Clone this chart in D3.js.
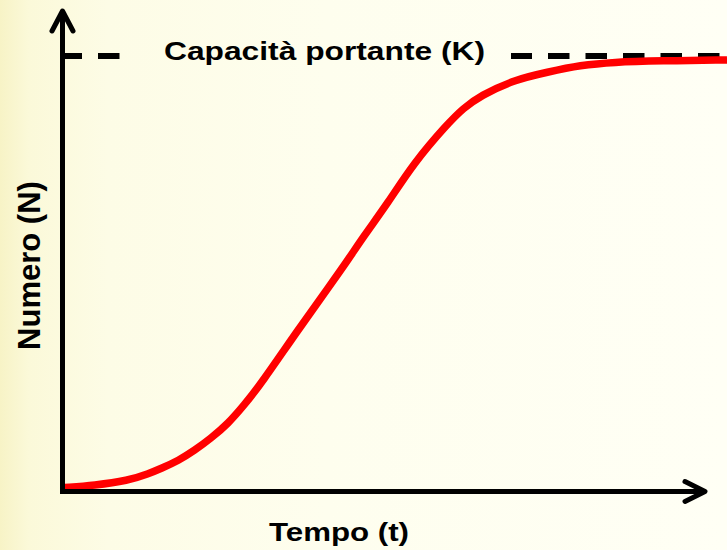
<!DOCTYPE html>
<html>
<head>
<meta charset="utf-8">
<script src="https://cdn.jsdelivr.net/npm/d3@7"></script>
<style>
  html, body { margin: 0; padding: 0; background: #fffff4; }
  svg { display: block; }
  text { font-family: Arial, "Liberation Sans", sans-serif; font-weight: bold; fill: #000; }
</style>
</head>
<body>
<svg id="chart" width="727" height="550"></svg>
<script>
// ---- data ----
const times  = [0, 4.5, 9.6, 12.7, 14.6, 17.2, 19.6, 22.1, 24.7, 27.1, 29.7, 35.2, 40.2, 42.8, 45.2, 48.8, 52.7, 57.8, 60.2, 62.8, 67.8, 72.9, 77.9, 82.8, 89.9, 100];
const numbers = [0.9, 1.4, 2.5, 4.1, 5.3, 7.1, 9.4, 12.2, 15.6, 19.8, 24.8, 37.0, 47.6, 53.2, 58.7, 66.2, 75.4, 84.4, 88.0, 90.9, 94.5, 96.3, 97.9, 98.6, 98.9, 99.1];
const carryingCapacity = 100;
const kLabel = "Capacità portante (K)";
const xLabel = "Tempo (t)";
const yLabel = "Numero (N)";

const W = 727, H = 550;
const svg = d3.select("#chart");

// background gradient
const defs = svg.append("defs");
const grad = defs.append("linearGradient").attr("id", "bg")
  .attr("gradientUnits", "userSpaceOnUse")
  .attr("x1", 0).attr("y1", 0).attr("x2", W).attr("y2", 0);
[[0, "#f7f3c6"], [0.04, "#fbf9d9"], [0.15, "#fdfce6"], [0.45, "#fefeee"], [1, "#fffff5"]]
  .forEach(([o, c]) => grad.append("stop").attr("offset", o).attr("stop-color", c));
svg.append("rect").attr("width", W).attr("height", H).attr("fill", "url(#bg)");

// scales
const x = d3.scaleLinear().domain([0, 100]).range([64.5, 727]);
const y = d3.scaleLinear().domain([0, carryingCapacity]).range([491.5, 56]);

const axisX = 62.5, axisY = y(0);

// carrying capacity dashed line (interrupted by label)
const dash = "21.5 16";
const kY = y(carryingCapacity);
svg.append("line").attr("x1", 60.5).attr("x2", 127).attr("y1", kY).attr("y2", kY)
  .attr("stroke", "#000").attr("stroke-width", 6).attr("stroke-dasharray", dash);
svg.append("line").attr("x1", 511).attr("x2", W).attr("y1", kY).attr("y2", kY)
  .attr("stroke", "#000").attr("stroke-width", 6).attr("stroke-dasharray", dash)
  .attr("stroke-dashoffset", (511 - 60.5) % 37.5);

svg.append("text").attr("x", 164).attr("y", 60)
  .attr("font-size", 25).attr("textLength", 321).attr("lengthAdjust", "spacingAndGlyphs")
  .text(kLabel);

// logistic curve
const pts = times.map((t, i) => [t, numbers[i]]);
const line = d3.line().x(d => x(d[0])).y(d => y(d[1])).curve(d3.curveBasis);
svg.append("path").attr("d", line(pts))
  .attr("fill", "none").attr("stroke", "#ff0000").attr("stroke-width", 7.5)
  .attr("stroke-linejoin", "round");

// axes with arrows
const ax = svg.append("g").attr("stroke", "#000").attr("stroke-width", 5).attr("fill", "none")
  .attr("stroke-linecap", "round").attr("stroke-linejoin", "round");
ax.append("line").attr("x1", axisX).attr("y1", axisY + 2.5).attr("x2", axisX).attr("y2", 11)
  .attr("stroke-linecap", "butt");
ax.append("path").attr("d", `M${axisX - 10.5},${31} L${axisX},${11} L${axisX + 10.5},${31}`);
ax.append("line").attr("x1", axisX - 2.5).attr("y1", axisY).attr("x2", 705).attr("y2", axisY)
  .attr("stroke-linecap", "butt");
ax.append("path").attr("d", `M${685},${axisY - 10} L${705},${axisY} L${685},${axisY + 10}`);

// axis titles
svg.append("text").attr("x", 269).attr("y", 541)
  .attr("font-size", 25).attr("textLength", 140).attr("lengthAdjust", "spacingAndGlyphs")
  .text(xLabel);
svg.append("text").attr("transform", "translate(40,265.5) rotate(-90)")
  .attr("text-anchor", "middle")
  .attr("font-size", 31)
  .text(yLabel);
</script>
</body>
</html>
